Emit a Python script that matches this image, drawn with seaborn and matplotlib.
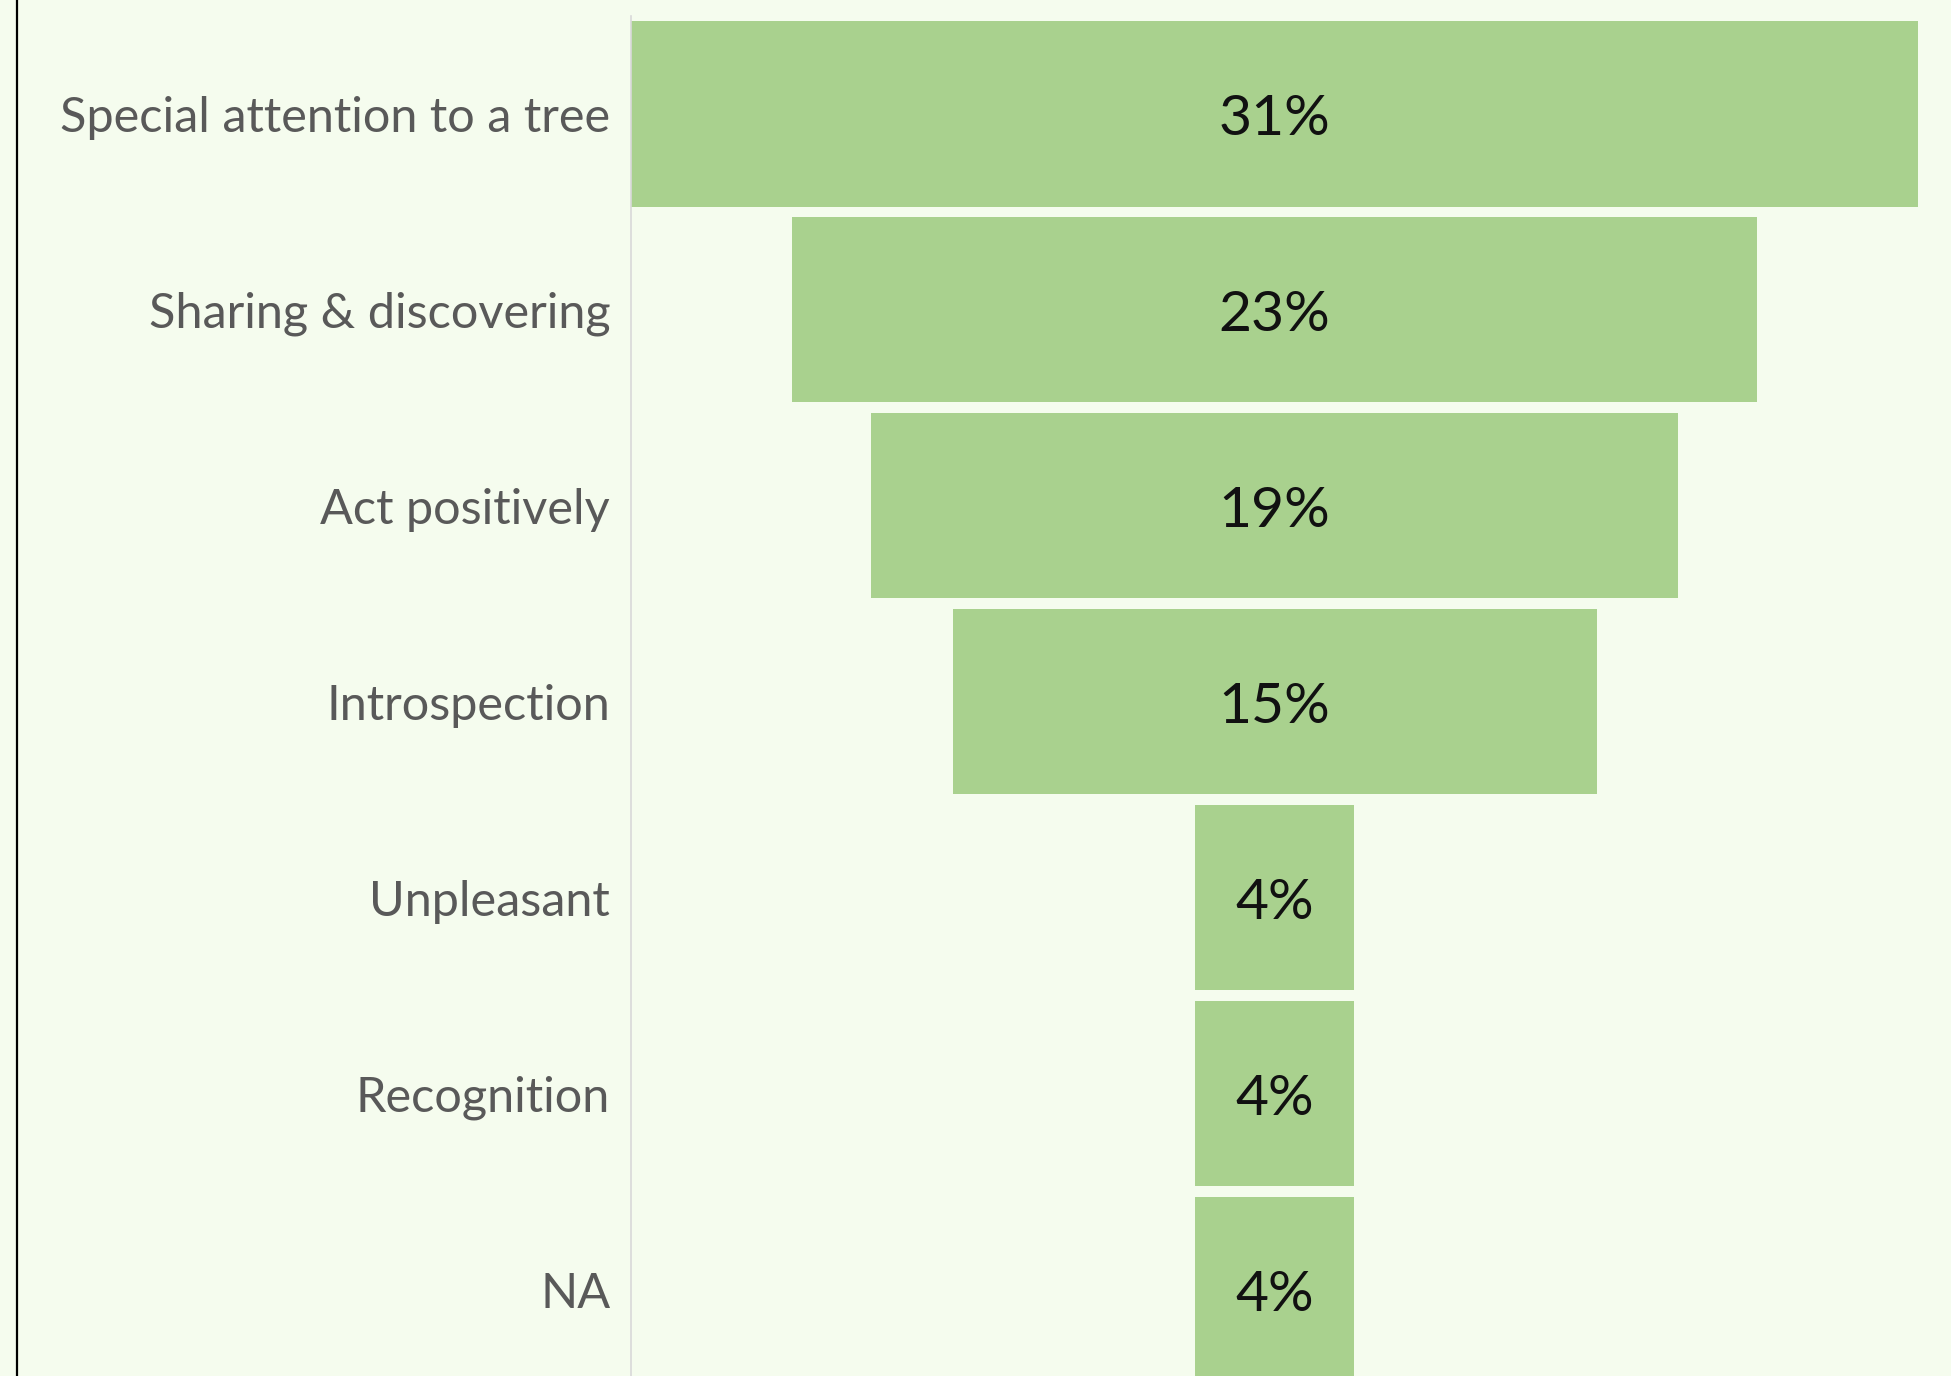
import matplotlib
matplotlib.use("Agg")
import matplotlib.pyplot as plt
import seaborn as sns
import pandas as pd
import numpy as np
from matplotlib.lines import Line2D

categories = ["Special attention to a tree", "Sharing & discovering", "Act positively",
              "Introspection", "Unpleasant", "Recognition", "NA"]
values = [30.8, 23.1, 19.3, 15.4, 3.8, 3.8, 3.8]

BG = "#F5FCEE"
BAR = "#A9D18E"

sns.set_theme(style="white")
plt.rcParams['font.family'] = ['Lato', 'DejaVu Sans']

df = pd.DataFrame({"cat": categories, "val": values})
df["half"] = df["val"] / 2
df["neg"] = -df["val"] / 2

fig = plt.figure(figsize=(19.51, 13.76), dpi=100, facecolor=BG)
ax = fig.add_axes([631/1951, 0, 1 - 631/1951, 1 - 16/1376])
ax.set_facecolor(BG)

sns.barplot(data=df, x="half", y="cat", color=BAR, saturation=1, width=0.944,
            linewidth=0, ax=ax, orient="h")
sns.barplot(data=df, x="neg", y="cat", color=BAR, saturation=1, width=0.944,
            linewidth=0, ax=ax, orient="h")

maxv = max(values)
ax.set_xlim(-maxv / 2, -maxv / 2 + 31.58)
ax.set_ylim(6.439, -0.5)

for i, v in enumerate(values):
    ax.text(0, i + 0.03, f"{v:.0f}%", ha="center", va="center", fontsize=41,
            color="#111111", fontweight="normal")

ax.set_xlabel("")
ax.set_ylabel("")
ax.set_xticks([])
ax.tick_params(axis="y", length=0, pad=15, labelsize=35, labelcolor="#595959")
for lbl in ax.get_yticklabels():
    lbl.set_fontweight("normal")
for s in ["top", "right", "bottom"]:
    ax.spines[s].set_visible(False)
ax.spines["left"].set_color("#D9D9D9")
ax.spines["left"].set_linewidth(1.2)

fig.add_artist(Line2D([17/1951, 17/1951], [0, 1], transform=fig.transFigure,
                      color="black", linewidth=1.6))

fig.savefig("out.png", dpi=100, facecolor=BG)
